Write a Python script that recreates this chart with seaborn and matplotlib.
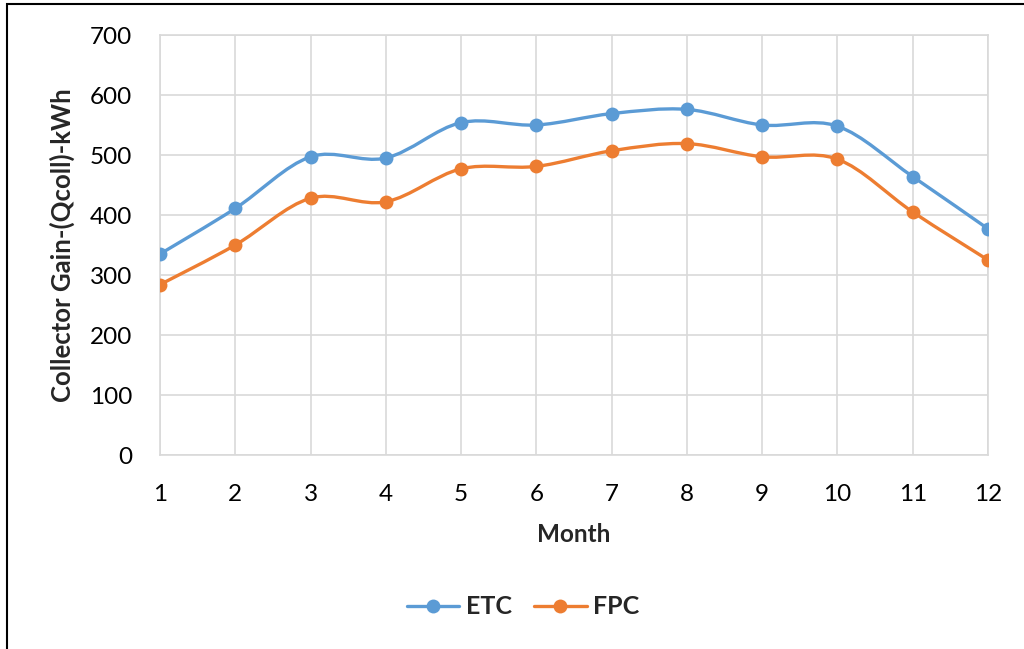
import numpy as np
import pandas as pd
import matplotlib
matplotlib.use("Agg")
import matplotlib.pyplot as plt
from matplotlib.path import Path
from matplotlib.patches import PathPatch, Rectangle
from matplotlib.lines import Line2D
import seaborn as sns

months = [1, 2, 3, 4, 5, 6, 7, 8, 9, 10, 11, 12]
etc = [335, 411, 497, 495, 554, 550, 569, 576, 550, 548, 464, 377]
fpc = [284, 350, 428, 422, 477, 481, 507, 519, 497, 493, 405, 325]
series_names = ["ETC", "FPC"]
colors = {"ETC": "#5B9BD5", "FPC": "#ED7D31"}

sns.set_theme(style="white")
plt.rcParams["font.family"] = ["Lato", "DejaVu Sans"]

df = pd.DataFrame({"Month": months * 2,
                   "Value": etc + fpc,
                   "Series": ["ETC"] * len(months) + ["FPC"] * len(months)})

fig = plt.figure(figsize=(10.24, 6.49), dpi=100)
ax = fig.add_axes([160 / 1024, 1 - 455 / 649, (988 - 160) / 1024, (455 - 35) / 649])

sns.lineplot(data=df, x="Month", y="Value", hue="Series", palette=colors,
             marker="o", markersize=10, markeredgewidth=0, linewidth=0,
             ax=ax, legend=False, zorder=3)


def smooth_path(xs, ys):
    xs = np.asarray(xs, float)
    ys = np.asarray(ys, float)
    n = len(xs)
    verts = [(xs[0], ys[0])]
    codes = [Path.MOVETO]
    t = 1 / 6
    for i in range(n - 1):
        p0 = (xs[max(i - 1, 0)], ys[max(i - 1, 0)])
        p1 = (xs[i], ys[i])
        p2 = (xs[i + 1], ys[i + 1])
        p3 = (xs[min(i + 2, n - 1)], ys[min(i + 2, n - 1)])
        c1 = (p1[0] + (p2[0] - p0[0]) * t, p1[1] + (p2[1] - p0[1]) * t)
        c2 = (p2[0] - (p3[0] - p1[0]) * t, p2[1] - (p3[1] - p1[1]) * t)
        verts += [c1, c2, p2]
        codes += [Path.CURVE4] * 3
    return Path(verts, codes)


for name, vals in zip(series_names, [etc, fpc]):
    ax.add_patch(PathPatch(smooth_path(months, vals), facecolor="none",
                           edgecolor=colors[name], linewidth=2.4, zorder=2,
                           capstyle="round"))

ax.set_xlim(1, 12)
ax.set_ylim(0, 700)
ax.set_xticks(months)
ax.set_yticks(range(0, 701, 100))
ax.grid(True, color="#D9D9D9", linewidth=1.2)
for s in ax.spines.values():
    s.set_color("#D9D9D9")
    s.set_linewidth(1.2)
ax.tick_params(axis="both", labelsize=17.5, colors="black", length=0)
ax.tick_params(axis="x", pad=21)
ax.tick_params(axis="y", pad=20)
ax.set_xlabel("Month", fontsize=17.5, fontweight="bold", labelpad=13)
ax.set_ylabel("Collector Gain-(Qcoll)-kWh", fontsize=18.5, fontweight="bold", labelpad=11)

handles = [Line2D([0], [0], color=colors[n], linewidth=2.4, marker="o",
                  markersize=10, markeredgewidth=0) for n in series_names]
leg = fig.legend(handles, series_names, loc="center", bbox_to_anchor=(523 / 1024, 1 - 607 / 649),
                 ncol=2, frameon=False, prop={"weight": "bold", "size": 18},
                 handlelength=2.1, handletextpad=0.25, columnspacing=0.9)

fig.patches.append(Rectangle((7 / 1024, -0.1), 1.2, 1 - 4 / 649 + 0.1,
                             transform=fig.transFigure, fill=False,
                             edgecolor="black", linewidth=1.5))

fig.savefig("out.png", dpi=100)
